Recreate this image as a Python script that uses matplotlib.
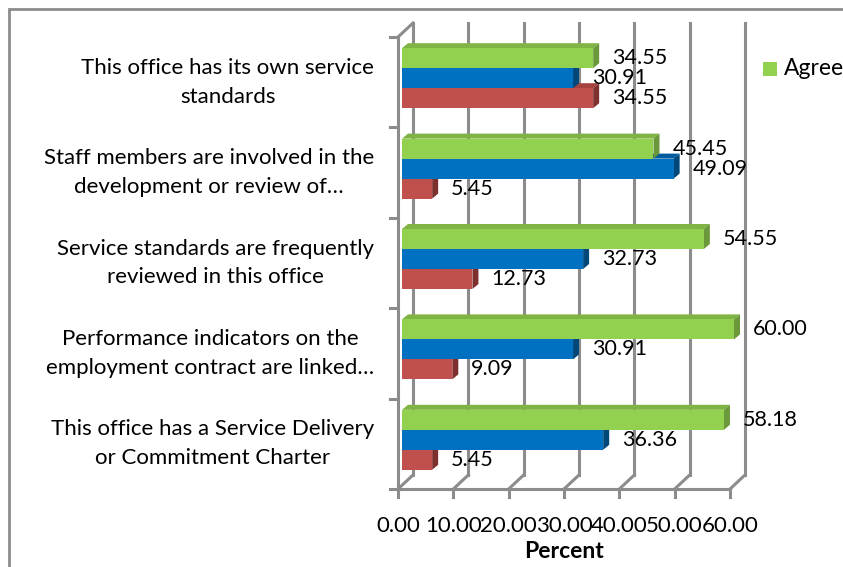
import matplotlib
matplotlib.use("Agg")
import matplotlib.pyplot as plt
from matplotlib.patches import Polygon, Rectangle

plt.rcParams["font.family"] = ["Lato", "DejaVu Sans"]

categories = [
    "This office has its own service\nstandards",
    "Staff members are involved in the\ndevelopment or review of…",
    "Service standards are frequently\nreviewed in this office",
    "Performance indicators on the\nemployment contract are linked…",
    "This office has a Service Delivery\nor Commitment Charter",
]
agree = [34.55, 45.45, 54.55, 60.00, 58.18]
series2 = [30.91, 49.09, 32.73, 30.91, 36.36]
series3 = [34.55, 5.45, 12.73, 9.09, 5.45]
xticks = [0, 10, 20, 30, 40, 50, 60]

W, H = 843, 567
# front plane of the 3d box, in pixels
fx0, fx1, fy0, fy1 = 398, 730, 37, 489
wall_px = (15, 14)    # depth of the box
bar_off = (4, 4)      # bars sit inside the box
bar_depth = (6, 5)
bar_px = 20

fig = plt.figure(figsize=(W / 100, H / 100), dpi=100)
ax = fig.add_axes([fx0 / W, 1 - fy1 / H, (fx1 - fx0) / W, (fy1 - fy0) / H])
n = len(categories)
ax.set_xlim(0, 60)
ax.set_ylim(0, n)
ax.axis("off")

sx = 60 / (fx1 - fx0)   # data units per pixel
sy = n / (fy1 - fy0)
wdx, wdy = wall_px[0] * sx, wall_px[1] * sy
grid = "#8c8c8c"

# back wall and floor
for t in xticks:
    ax.plot([t + wdx, t + wdx], [wdy, n + wdy], color=grid, lw=2.2, clip_on=False, zorder=1)
    ax.plot([t, t + wdx], [0, wdy], color=grid, lw=2.2, clip_on=False, zorder=1)
    ax.plot([t, t], [0, -8 * sy], color=grid, lw=2.2, clip_on=False, zorder=1)
ax.plot([0, 60], [0, 0], color=grid, lw=2.2, clip_on=False, zorder=1)
ax.plot([0, 0], [0, n], color=grid, lw=2.2, clip_on=False, zorder=1)
ax.plot([0, wdx], [n, n + wdy], color=grid, lw=2.2, clip_on=False, zorder=1)
for k in range(n + 1):
    ax.plot([-8 * sx, 0], [k, k], color=grid, lw=2.2, clip_on=False, zorder=1)

colors = [
    ("#92d050", "#7fb343", "#6b983a"),
    ("#0070c0", "#005c9e", "#00477a"),
    ("#c0504d", "#a5423f", "#7e302e"),
]
ox, oy = bar_off[0] * sx, bar_off[1] * sy
ddx, ddy = bar_depth[0] * sx, bar_depth[1] * sy
h = bar_px * sy
series = [agree, series2, series3]

for i in range(n):
    c = n - i - 0.5
    # draw lowest bar first so the bar above hides its top face
    for j in [2, 1, 0]:
        v = series[j][i]
        yc = c + (1 - j) * h + oy
        y0, y1 = yc - h / 2, yc + h / 2
        x0, x1 = ox, ox + v
        front, top, side = colors[j]
        z = 3 + (2 - j)
        ax.add_patch(Polygon([(x0, y1), (x1, y1), (x1 + ddx, y1 + ddy), (x0 + ddx, y1 + ddy)],
                             closed=True, fc=top, ec="none", clip_on=False, zorder=z))
        ax.add_patch(Polygon([(x1, y0), (x1 + ddx, y0 + ddy), (x1 + ddx, y1 + ddy), (x1, y1)],
                             closed=True, fc=side, ec="none", clip_on=False, zorder=z))
        ax.add_patch(Rectangle((x0, y0), v, h, fc=front, ec="none", clip_on=False, zorder=z))
        ax.text(x1 + 19 * sx, yc, f"{v:.2f}", ha="left", va="center", fontsize=15.5,
                color="black", zorder=10, clip_on=False)

# category labels
for i, lab in enumerate(categories):
    ax.text(-24 * sx, n - i - 0.5, lab, ha="right", va="center", multialignment="center",
            fontsize=16, linespacing=1.55, clip_on=False)

# x tick labels
for t in xticks:
    ax.text(t, -37 * sy, f"{t:.2f}", ha="center", va="center", fontsize=16, clip_on=False)
ax.text(30, -63 * sy, "Percent", ha="center", va="center", fontsize=16.5,
        fontweight="bold", clip_on=False)

# legend (cut off at the right edge like the original)
fig.patches.append(Rectangle((763 / W, 1 - 76 / H), 14 / W, 14 / H, fc="#92d050",
                             ec="none", transform=fig.transFigure))
fig.text(784 / W, 1 - 69 / H, "Agree", ha="left", va="center", fontsize=16.5)

# outer chart border
fig.patches.append(Rectangle((9 / W, -0.05), 1.2, 1 - 9 / H + 0.05, fill=False, ec="#8c8c8c",
                             lw=2, transform=fig.transFigure))

fig.savefig("out.png", dpi=100)
